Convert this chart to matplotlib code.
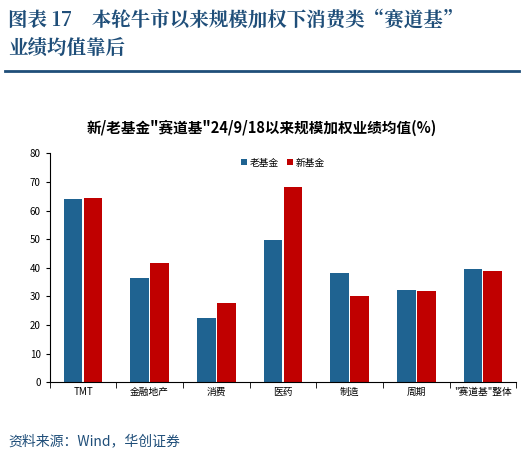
import matplotlib
matplotlib.use("Agg")
import matplotlib.pyplot as plt
import numpy as np

plt.rcParams['font.family'] = ['Noto Sans CJK SC', 'DejaVu Sans']

categories = ["TMT", "金融地产", "消费", "医药", "制造", "周期", "\"赛道基\"整体"]
old_fund = [64.2, 36.5, 22.4, 49.8, 38.2, 32.3, 39.4]
new_fund = [64.3, 41.5, 27.8, 68.3, 30.1, 31.8, 38.9]
yticks = [0, 10, 20, 30, 40, 50, 60, 70, 80]

fig = plt.figure(figsize=(5.24, 4.55), dpi=100)
title_c = "#1F4E79"
fig.text(0.015, 0.955, "图表 17　本轮牛市以来规模加权下消费类“赛道基”", color=title_c, fontsize=14, fontweight='bold', va='center', family=['Noto Serif CJK SC', 'Noto Sans CJK SC', 'DejaVu Sans'])
fig.text(0.015, 0.895, "业绩均值靠后", color=title_c, fontsize=14, fontweight='bold', va='center', family=['Noto Serif CJK SC', 'Noto Sans CJK SC', 'DejaVu Sans'])
fig.add_artist(plt.Line2D([0.01, 0.99], [0.845, 0.845], color=title_c, lw=2))
fig.text(0.5, 0.72, "新/老基金\"赛道基\"24/9/18以来规模加权业绩均值(%)", ha='center', va='center', fontsize=10.5, fontweight='bold')
fig.text(0.015, 0.03, "资料来源：Wind，华创证券", color=title_c, fontsize=10, style='italic', va='center')

ax = fig.add_axes([0.095, 0.16, 0.89, 0.503])
x = np.arange(len(categories))
w = 0.28
ax.bar(x - w/2 - 0.01, old_fund, w, color="#1F6391", label="老基金")
ax.bar(x + w/2 + 0.01, new_fund, w, color="#C00000", label="新基金")
ax.set_ylim(0, 80)
ax.set_xlim(-0.5, len(categories) - 0.5)
ax.set_yticks(yticks)
ax.set_xticks(x)
ax.set_xticklabels(categories, fontsize=7)
ax.tick_params(axis='y', labelsize=7, length=3)
ax.tick_params(axis='x', length=0)
for s in ['top', 'right']:
    ax.spines[s].set_visible(False)
ax.set_xticks(np.arange(len(categories) + 1) - 0.5, minor=True)
ax.tick_params(axis='x', which='minor', length=4)
ax.legend(loc='upper center', bbox_to_anchor=(0.5, 1.02), ncol=2, frameon=False, fontsize=7, handlelength=0.6, handleheight=0.6, columnspacing=0.8, handletextpad=0.3)
fig.savefig("out.png", dpi=100)
